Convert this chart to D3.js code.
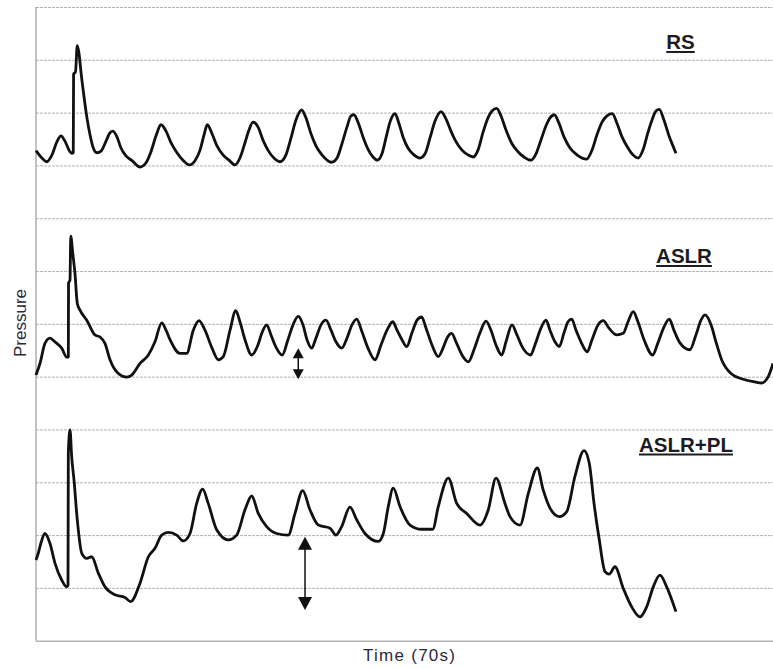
<!DOCTYPE html>
<html>
<head>
<meta charset="utf-8">
<script src="https://cdn.jsdelivr.net/npm/d3@7"></script>
<style>
  body { margin: 0; background: #fff; }
  svg { display: block; }
  text { font-family: "Liberation Sans", Arial, sans-serif; }
</style>
</head>
<body>
<div class="graphHere"></div>
<script>
// time in s, pressure in grid units (arbitrary)
var rsTrace = [
  [0.00,9.28],[0.47,9.16],[1.02,9.07],[1.52,9.20],[1.99,9.45],[2.37,9.56],[2.75,9.46],[3.23,9.26],
  [3.42,9.23],[3.54,9.24],[3.57,10.73],[3.75,10.77],[3.92,11.27],[4.08,11.13],[4.27,10.77],[4.56,10.30],
  [4.84,9.90],[5.13,9.58],[5.41,9.35],[5.79,9.24],[6.17,9.27],[6.65,9.46],[7.03,9.62],[7.31,9.65],
  [7.69,9.54],[8.07,9.33],[8.55,9.18],[9.12,9.09],[9.88,8.97],[10.45,9.05],[10.92,9.26],[11.40,9.56],
  [11.87,9.77],[12.35,9.65],[12.82,9.43],[13.39,9.24],[13.96,9.10],[14.56,9.01],[15.10,9.09],[15.58,9.29],
  [15.96,9.58],[16.27,9.77],[16.72,9.60],[17.19,9.37],[17.76,9.20],[18.33,9.10],[18.90,9.01],[19.37,9.14],
  [19.85,9.43],[20.23,9.67],[20.61,9.82],[21.08,9.73],[21.56,9.48],[22.03,9.29],[22.60,9.14],[23.17,9.07],
  [23.74,9.20],[24.22,9.52],[24.69,9.86],[25.23,10.05],[25.64,9.90],[26.12,9.60],[26.59,9.37],[27.16,9.20],
  [28.08,9.06],[28.59,9.14],[29.06,9.41],[29.54,9.73],[29.92,9.94],[30.20,9.96],[30.58,9.82],[31.06,9.54],
  [31.53,9.31],[32.01,9.16],[32.42,9.10],[32.86,9.22],[33.24,9.52],[33.62,9.82],[34.10,9.98],[34.48,9.79],
  [34.86,9.54],[35.33,9.33],[35.90,9.20],[36.47,9.14],[36.95,9.22],[37.42,9.52],[37.90,9.84],[38.47,10.02],
  [38.94,9.88],[39.41,9.65],[39.89,9.45],[40.46,9.29],[41.03,9.20],[41.53,9.16],[41.98,9.29],[42.45,9.62],
  [42.93,9.90],[43.31,10.03],[43.75,10.08],[44.16,9.94],[44.64,9.67],[45.21,9.41],[45.78,9.26],[46.35,9.16],
  [46.98,9.10],[47.49,9.22],[47.96,9.48],[48.44,9.75],[48.82,9.90],[49.23,9.96],[49.67,9.80],[50.15,9.54],
  [50.72,9.33],[51.38,9.20],[52.30,9.12],[52.81,9.29],[53.28,9.58],[53.76,9.82],[54.23,9.94],[54.73,9.98],
  [55.18,9.80],[55.66,9.54],[56.23,9.33],[56.70,9.20],[57.20,9.14],[57.65,9.29],[58.12,9.62],[58.51,9.86],
  [58.88,10.03],[59.20,10.06],[59.64,9.86],[60.12,9.56],[60.50,9.37],[60.78,9.23]
];

var aslrTrace = [
  [0.00,5.03],[0.38,5.25],[0.85,5.63],[1.33,5.73],[1.80,5.66],[2.44,5.54],[2.92,5.37],[3.07,5.37],
  [3.09,6.77],[3.23,6.83],[3.30,7.66],[3.49,7.34],[3.70,6.96],[3.92,6.39],[4.18,6.26],[4.82,6.07],
  [5.60,5.79],[6.08,5.75],[6.55,5.63],[7.03,5.32],[7.82,5.06],[8.61,4.99],[9.09,5.03],[9.88,5.25],
  [10.67,5.41],[11.30,5.66],[11.94,6.02],[12.35,5.88],[12.73,5.70],[13.68,5.44],[14.31,5.44],[14.94,5.88],
  [15.48,6.06],[16.05,5.88],[16.72,5.54],[17.31,5.32],[17.79,5.38],[18.43,5.88],[18.97,6.25],[19.37,6.04],
  [19.85,5.70],[20.49,5.41],[21.08,5.60],[21.46,5.83],[21.91,5.98],[22.32,5.79],[22.79,5.56],[23.39,5.41],
  [23.93,5.70],[24.41,5.98],[24.91,6.14],[25.36,5.98],[25.74,5.70],[26.18,5.54],[26.59,5.73],[27.07,5.98],
  [27.54,6.07],[28.02,5.88],[28.49,5.66],[29.03,5.54],[29.54,5.73],[30.01,5.98],[30.46,6.09],[30.96,5.85],
  [31.53,5.54],[32.20,5.32],[32.77,5.60],[33.34,5.88],[33.88,6.04],[34.29,5.88],[34.76,5.70],[35.21,5.57],
  [35.71,5.83],[36.19,6.07],[36.63,6.13],[37.04,5.92],[37.61,5.60],[38.21,5.38],[38.66,5.54],[39.04,5.73],
  [39.48,5.82],[39.89,5.66],[40.46,5.41],[41.06,5.28],[41.60,5.51],[42.17,5.83],[42.74,6.05],[43.21,5.88],
  [43.69,5.60],[44.23,5.41],[44.64,5.66],[45.21,5.98],[45.68,5.79],[46.25,5.54],[46.98,5.41],[47.39,5.60],
  [47.96,5.92],[48.44,6.07],[48.82,5.88],[49.29,5.66],[49.70,5.57],[50.15,5.83],[50.53,6.04],[50.88,6.09],
  [51.29,5.88],[51.76,5.66],[52.36,5.47],[52.81,5.70],[53.38,5.98],[53.88,6.06],[54.42,5.92],[55.15,5.79],
  [55.78,5.82],[56.23,6.04],[56.73,6.23],[57.17,6.04],[57.75,5.70],[58.57,5.41],[59.07,5.64],[59.64,5.94],
  [60.15,6.09],[60.59,5.88],[61.16,5.64],[62.11,5.51],[62.68,5.79],[63.16,6.07],[63.54,6.17],[64.17,5.95],
  [64.58,5.66],[65.12,5.32],[66.07,5.05],[67.18,4.95],[68.29,4.90],[68.92,4.88],[69.55,5.00],[70.00,5.25]
];

var aslrPlTrace = [
  [0.00,1.53],[0.22,1.66],[0.47,1.85],[0.85,2.03],[1.33,1.84],[1.80,1.47],[2.44,1.15],[2.92,1.02],
  [3.04,1.05],[3.07,3.55],[3.23,3.99],[3.39,3.48],[3.61,3.04],[3.92,2.29],[4.34,1.66],[4.82,1.56],
  [5.29,1.59],[5.92,1.28],[6.55,1.02],[7.50,0.87],[8.45,0.82],[8.99,0.74],[9.88,1.09],[10.67,1.59],
  [11.30,1.75],[11.94,2.00],[12.57,2.05],[13.36,2.00],[13.99,1.89],[14.63,2.03],[15.26,2.60],[15.83,2.87],
  [16.36,2.60],[17.16,2.10],[18.26,1.91],[19.06,2.00],[19.85,2.48],[20.49,2.74],[21.11,2.41],[21.91,2.16],
  [22.86,2.03],[23.96,2.00],[24.60,2.41],[25.33,2.84],[26.02,2.48],[26.81,2.19],[27.92,2.13],[28.49,2.00],
  [29.03,2.16],[29.82,2.53],[30.46,2.29],[31.25,2.03],[32.51,1.88],[32.99,2.03],[33.46,2.54],[33.93,2.89],
  [34.57,2.54],[35.52,2.19],[36.63,2.11],[37.68,2.11],[38.21,2.54],[39.16,3.08],[39.96,2.60],[40.91,2.41],
  [42.17,2.19],[42.96,2.48],[43.69,3.08],[44.54,2.60],[45.02,2.35],[45.97,2.19],[46.76,2.79],[47.61,3.27],
  [48.18,2.85],[48.82,2.51],[49.70,2.35],[50.40,2.44],[51.19,3.11],[52.05,3.60],[52.55,3.36],[53.00,2.60],
  [53.50,1.91],[54.04,1.31],[54.45,1.26],[54.99,1.40],[55.78,0.99],[56.58,0.64],[57.37,0.45],[58.00,0.64],
  [58.63,1.02],[59.26,1.24],[59.90,1.02],[60.78,0.55]
];

var traceNames = ["RS", "ASLR", "ASLR+PL"];
var gridLevels = [0,1,2,3,4,5,6,7,8,9,10,11,12];
// double arrows: [time, low, high]
var arrows = [[24.91, 4.95, 5.54], [25.55, 0.58, 1.97]];

var W = 773, H = 668;
var margin = {top: 7, right: 0, bottom: 27.3, left: 36};
var width = W - margin.left - margin.right;
var height = H - margin.top - margin.bottom;

var svg = d3.select(".graphHere").append("svg")
  .attr("width", W)
  .attr("height", H);

var g = svg.append("g")
  .attr("transform", "translate(" + margin.left + "," + margin.top + ")");

var x = d3.scaleLinear().domain([0, 70]).range([0, width]);
var y = d3.scaleLinear().domain([0, 12]).range([height, 0]);

// horizontal grid
var grid = g.append("g")
  .attr("class", "grid")
  .call(d3.axisLeft(y).tickValues(gridLevels).tickSize(-width).tickFormat(""));
grid.select(".domain").remove();
grid.selectAll(".tick line")
  .attr("stroke-width", 1)
  .attr("stroke-dasharray", function(d){ return d == 0 ? null : "3,1"; })
  .attr("stroke", function(d){ return d == 0 ? "#8c8c8c" : "#b4b4b4"; });

// left frame line
g.append("line")
  .attr("x1", 0).attr("x2", 0)
  .attr("y1", y(12)).attr("y2", y(0))
  .attr("stroke", "#9a9a9a")
  .attr("stroke-width", 1.2);

var line = d3.line()
  .x(function(d){ return x(d[0]); })
  .y(function(d){ return y(d[1]); })
  .curve(d3.curveMonotoneX);

[rsTrace, aslrTrace, aslrPlTrace].forEach(function(tr){
  g.append("path")
    .datum(tr)
    .attr("fill", "none")
    .attr("stroke", "#111")
    .attr("stroke-width", 2.8)
    .attr("stroke-linejoin", "round")
    .attr("d", line);
});

// trace labels
var labelPos = [[680.5, 49], [684, 263], [686, 451.5]];
traceNames.forEach(function(name, i){
  var t = svg.append("text")
    .attr("x", labelPos[i][0])
    .attr("y", labelPos[i][1])
    .attr("text-anchor", "middle")
    .attr("font-size", 20.5)
    .attr("font-weight", "bold")
    .attr("fill", "#1c1c22")
    .text(name);
  var w = t.node().getComputedTextLength();
  svg.append("line")
    .attr("x1", labelPos[i][0] - w / 2).attr("x2", labelPos[i][0] + w / 2)
    .attr("y1", labelPos[i][1] + 3).attr("y2", labelPos[i][1] + 3)
    .attr("stroke", "#1c1c22")
    .attr("stroke-width", 2);
});

// double arrows
arrows.forEach(function(a){
  var ax = x(a[0]), y0 = y(a[1]), y1 = y(a[2]);
  var hw = (y0 - y1) > 40 ? 7 : 5.5, hh = (y0 - y1) > 40 ? 13 : 10;
  g.append("line")
    .attr("x1", ax).attr("x2", ax)
    .attr("y1", y1 + hh - 1).attr("y2", y0 - hh + 1)
    .attr("stroke", "#111").attr("stroke-width", 1.5);
  g.append("path")
    .attr("d", "M" + ax + "," + y1 + "L" + (ax - hw) + "," + (y1 + hh) + "L" + (ax + hw) + "," + (y1 + hh) + "Z")
    .attr("fill", "#111");
  g.append("path")
    .attr("d", "M" + ax + "," + y0 + "L" + (ax - hw) + "," + (y0 - hh) + "L" + (ax + hw) + "," + (y0 - hh) + "Z")
    .attr("fill", "#111");
});

// axis titles
svg.append("text")
  .attr("transform", "translate(26,323) rotate(-90)")
  .attr("text-anchor", "middle")
  .attr("font-size", 17)
  .attr("fill", "#2a2a3a")
  .text("Pressure");

svg.append("text")
  .attr("x", 409)
  .attr("y", 661)
  .attr("text-anchor", "middle")
  .attr("font-size", 17)
  .attr("fill", "#2a2a3a")
  .attr("textLength", 92)
  .attr("lengthAdjust", "spacing")
  .text("Time (70s)");
</script>
</body>
</html>
